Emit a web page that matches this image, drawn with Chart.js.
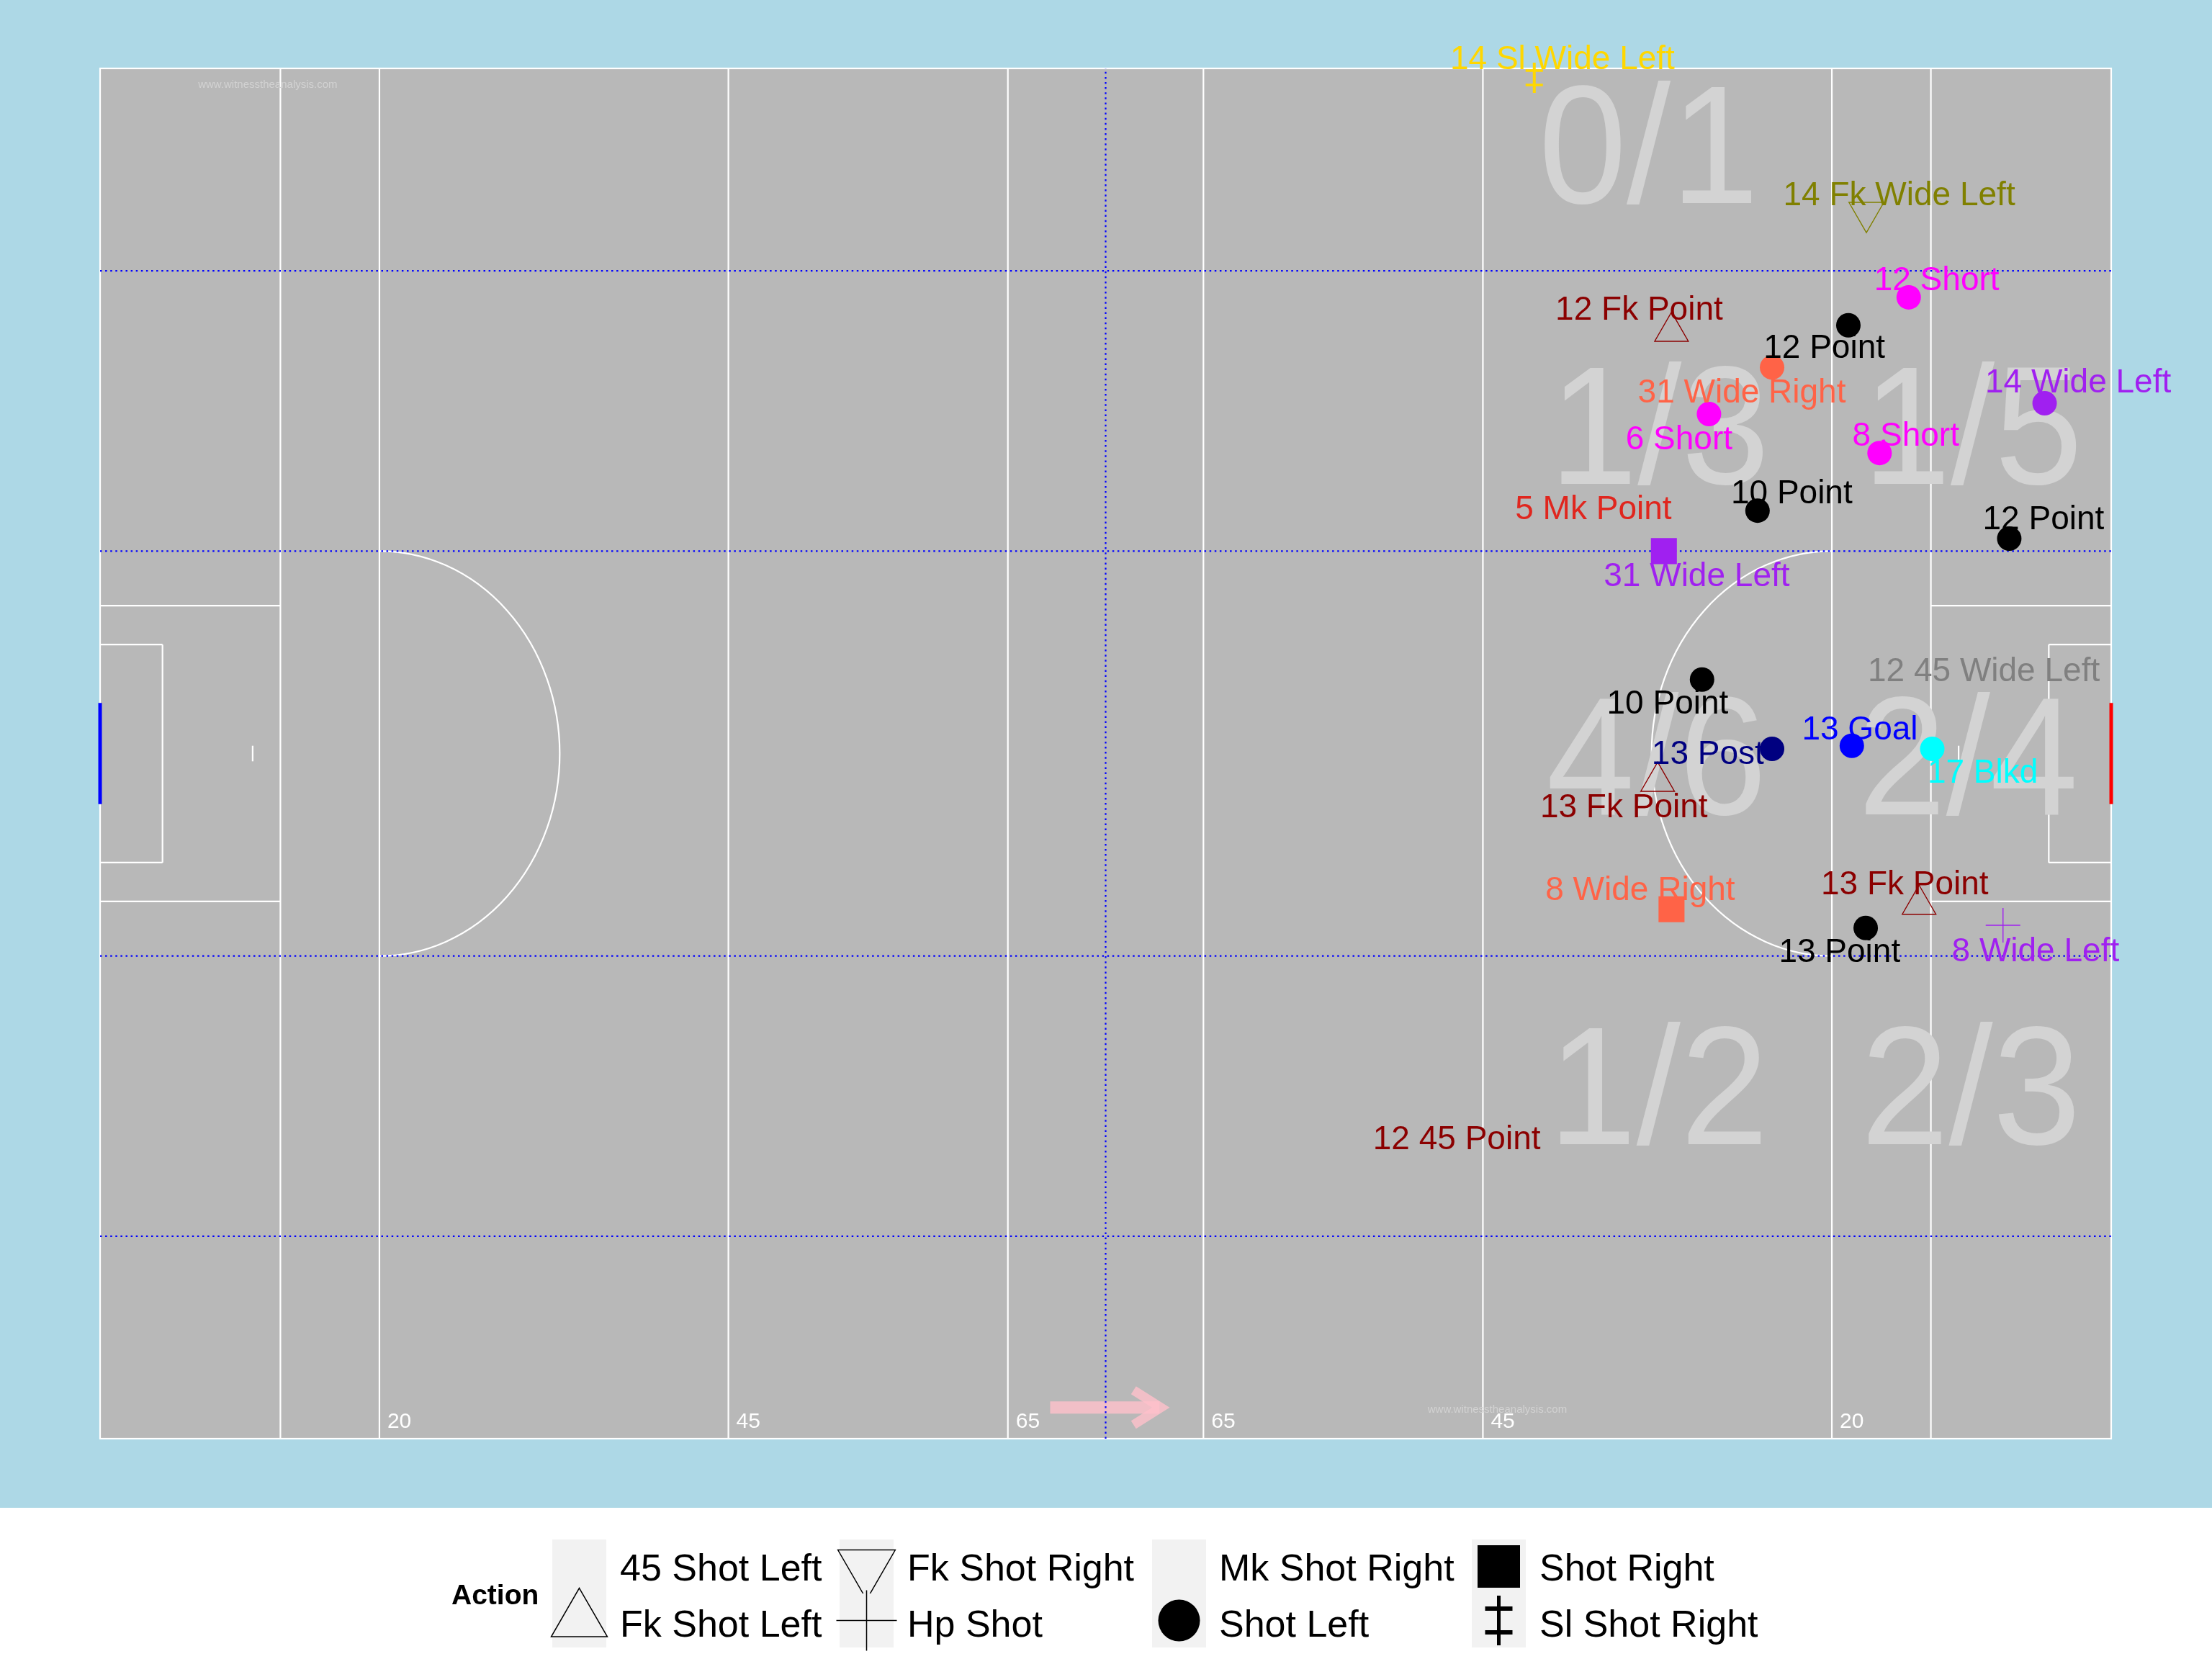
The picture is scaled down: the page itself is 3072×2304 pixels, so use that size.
<!DOCTYPE html>
<html>
<head>
<meta charset="utf-8">
<title>Shot chart</title>
<script src="https://cdn.jsdelivr.net/npm/chart.js@4.4.1/dist/chart.umd.min.js"></script>
<style>
html,body{margin:0;padding:0;background:#ffffff;overflow:hidden;}
#wrap{position:relative;width:3072px;height:2304px;}
canvas{display:block;}
</style>
</head>
<body>
<div id="wrap"><canvas id="chart" width="3072" height="2304"></canvas></div>
<script>
// ---------------- DATA ----------------
const players = [14, 14, 12, 12, 12, 31, 6, 8, 14, 10, 5, 31, 12, 10, 13, 13, 17, 13, 8, 13, 13, 8, 12, 12];
const results = ["Sl Wide Left", "Fk Wide Left", "Short", "Fk Point", "Point", "Wide Right", "Short", "Short",
  "Wide Left", "Point", "Mk Point", "Wide Left", "Point", "Point", "Post", "Goal", "Blkd", "Fk Point",
  "Wide Right", "Fk Point", "Point", "Wide Left", "45 Wide Left", "45 Point"];
const actions = ["Sl Shot Right", "Fk Shot Right", "Shot Left", "Fk Shot Left", "Shot Left", "Shot Left", "Shot Left",
  "Shot Left", "Shot Left", "Shot Left", "Mk Shot Right", "Shot Right", "Shot Left", "Shot Left", "Shot Left",
  "Shot Left", "Shot Left", "Fk Shot Left", "Shot Right", "Fk Shot Left", "Shot Left", "Hp Shot",
  "45 Shot Left", "45 Shot Left"];
const shotX = [103.4, 127.35, 130.4, 113.3, 126.05, 120.55, 116.0, 128.3, 140.2, 119.5, 109.5, 112.75,
  137.65, 115.5, 120.55, 126.3, 132.1, 112.3, 113.3, 131.15, 127.3, 137.2, 134.5, 99.5];
const shotY = [87.4, 78.75, 73.3, 71.1, 71.5, 68.8, 65.8, 63.3, 66.5, 59.6, 58.5, 57.0,
  57.8, 48.75, 44.3, 44.5, 44.3, 42.2, 34.0, 34.3, 32.8, 32.97, 48.0, 18.0];
const labelX = [105.52, 129.8, 132.5, 111.05, 124.4, 118.4, 113.9, 130.25, 142.7, 122.05, 107.7, 115.15,
  140.2, 113.1, 116.0, 126.9, 135.75, 109.95, 111.1, 130.2, 125.5, 139.6, 135.9, 97.9];
const labelY = [88.68, 79.95, 74.5, 72.6, 70.15, 67.3, 64.3, 64.5, 67.95, 60.8, 59.8, 55.5,
  59.15, 47.3, 44.07, 45.65, 42.87, 40.67, 35.33, 35.7, 31.35, 31.4, 49.4, 19.34];

// zone tallies
const zoneLabels = ["0/1", "1/3", "1/5", "4/6", "2/4", "1/2", "2/3"];
const zoneX = [111.6, 112.6, 135.2, 112.1, 134.8, 112.5, 134.9];
const zoneY = [83.1, 65.06, 65.06, 43.85, 43.85, 22.68, 22.68];

// legend categories
const actionOrder = ["45 Shot Left", "Fk Shot Left", "Fk Shot Right", "Hp Shot",
  "Mk Shot Right", "Shot Left", "Shot Right", "Sl Shot Right"];
const legendTitle = "Action";

// pitch markings (metres)
const pitchLength = 145;
const pitchWidth = 88;
const fullLinesX = [13, 20.14, 45.3, 65.45, 79.55, 99.7, 124.86, 132];
const distanceLabels = ["20", "45", "65", "65", "45", "20"];
const distanceLabelX = [20.14, 45.3, 65.45, 79.55, 99.7, 124.86];
const zoneLinesY = [13, 31, 57, 75];
const halfwayX = 72.5;
const watermark = "www.witnesstheanalysis.com";
const watermarkX = [12.05, 100.7];
const watermarkY = [86.98, 1.9];
const arrowFrom = [68.5, 2];
const arrowTo = [76.9, 2];

// ---------------- STYLES ----------------
const resultColour = {
  "Sl Wide Left": "#FFD700", "Fk Wide Left": "#808000", "Short": "#FF00FF", "Fk Point": "#8B0000",
  "Point": "#000000", "Wide Right": "#FF6347", "Wide Left": "#A020F0", "Mk Point": "#E0261E",
  "Post": "#000080", "Goal": "#0000FF", "Blkd": "#00FFFF", "45 Wide Left": "#808080", "45 Point": "#8B0000"
};
const FONT = "'Liberation Sans', Arial, Helvetica, sans-serif";

function drawDagger(ctx, x, y, h, barOff, barHalf, lwV, lwB, colour) {
  ctx.save();
  ctx.strokeStyle = colour;
  ctx.lineCap = 'butt';
  ctx.lineWidth = lwV;
  ctx.beginPath(); ctx.moveTo(x, y - h); ctx.lineTo(x, y + h); ctx.stroke();
  ctx.lineWidth = lwB;
  ctx.beginPath();
  ctx.moveTo(x - barHalf, y - barOff); ctx.lineTo(x + barHalf, y - barOff);
  ctx.moveTo(x - barHalf, y + barOff); ctx.lineTo(x + barHalf, y + barOff);
  ctx.stroke();
  ctx.restore();
}
function daggerCanvas(colour) {
  const c = document.createElement('canvas');
  c.width = 26; c.height = 44;
  drawDagger(c.getContext('2d'), 13, 22, 21, 10, 12, 4, 3.5, colour);
  return c;
}
const daggerCache = {};
function daggerFor(colour) {
  if (!daggerCache[colour]) daggerCache[colour] = daggerCanvas(colour);
  return daggerCache[colour];
}

const actionStyle = {
  "45 Shot Left": { style: 'circle', radius: 0, rotation: 0, open: false },
  "Fk Shot Left": { style: 'triangle', radius: 27, rotation: 0, open: true },
  "Fk Shot Right": { style: 'triangle', radius: 28, rotation: 180, open: true },
  "Hp Shot": { style: 'cross', radius: 24, rotation: 0, open: true },
  "Mk Shot Right": { style: 'circle', radius: 0, rotation: 0, open: false },
  "Shot Left": { style: 'circle', radius: 17, rotation: 0, open: false },
  "Shot Right": { style: 'rect', radius: 25.5, rotation: 0, open: false },
  "Sl Shot Right": { style: 'dagger', radius: 22, rotation: 0, open: false }
};

function colourOf(c) {
  return (c && c.raw) ? resultColour[results[c.raw.i]] : '#000000';
}

const datasets = actionOrder.map(a => {
  const st = actionStyle[a];
  return {
    label: a,
    data: shotX.map((x, i) => ({ x: x, y: shotY[i], i: i })).filter(p => actions[p.i] === a),
    clip: false,
    pointStyle: st.style === 'dagger' ? (c => daggerFor(colourOf(c))) : st.style,
    pointRadius: st.radius,
    pointHoverRadius: st.radius,
    pointRotation: st.rotation,
    pointBackgroundColor: st.open ? 'rgba(0,0,0,0)' : colourOf,
    pointBorderColor: colourOf,
    pointBorderWidth: st.open ? 1.4 : 0,
    pointHoverBorderWidth: st.open ? 1.4 : 0
  };
});

function inkText(ctx, text, x, yMid, font, colour, align) {
  ctx.font = font;
  ctx.fillStyle = colour;
  ctx.textAlign = 'left';
  ctx.textBaseline = 'alphabetic';
  const m = ctx.measureText(text);
  const cap = ctx.measureText('H').actualBoundingBoxAscent;
  let x0;
  if (align === 'center') x0 = x - (m.actualBoundingBoxRight - m.actualBoundingBoxLeft) / 2;
  else x0 = x;
  ctx.fillText(text, x0, yMid + cap / 2);
}

function legendGlyph(ctx, a, x, y) {
  ctx.save();
  ctx.strokeStyle = '#000'; ctx.fillStyle = '#000'; ctx.lineWidth = 1.5;
  if (a === "Fk Shot Left" || a === "Fk Shot Right") {
    const r = a === "Fk Shot Left" ? 45 : 46;
    const s = a === "Fk Shot Left" ? 1 : -1;
    ctx.beginPath();
    ctx.moveTo(x, y - s * r);
    ctx.lineTo(x + 0.866 * r, y + s * r / 2);
    ctx.lineTo(x - 0.866 * r, y + s * r / 2);
    ctx.closePath();
    ctx.stroke();
  } else if (a === "Hp Shot") {
    ctx.beginPath();
    ctx.moveTo(x - 42, y); ctx.lineTo(x + 42, y);
    ctx.moveTo(x, y - 42); ctx.lineTo(x, y + 42);
    ctx.stroke();
  } else if (a === "Shot Left") {
    ctx.beginPath(); ctx.arc(x, y, 29, 0, Math.PI * 2); ctx.fill();
  } else if (a === "Shot Right") {
    ctx.fillRect(x - 29.5, y - 29.5, 59, 59);
  } else if (a === "Sl Shot Right") {
    drawDagger(ctx, x, y, 34.5, 16.5, 19, 5, 6, '#000');
  }
  ctx.restore();
}

const pitchPlugin = {
  id: 'pitch',
  beforeDraw(chart) {
    const { ctx, chartArea: a } = chart;
    ctx.save();
    ctx.fillStyle = '#FFFFFF'; ctx.fillRect(0, 0, chart.width, chart.height);
    ctx.fillStyle = '#ADD8E6'; ctx.fillRect(0, 0, chart.width, 2094);
    ctx.fillStyle = '#B8B8B8'; ctx.fillRect(a.left, a.top, a.right - a.left, a.bottom - a.top);
    ctx.restore();
  },
  beforeDatasetsDraw(chart) {
    const ctx = chart.ctx;
    const sx = chart.scales.x, sy = chart.scales.y;
    const X = v => sx.getPixelForValue(v), Y = v => sy.getPixelForValue(v);
    ctx.save();
    // arrow (direction of play)
    ctx.strokeStyle = 'rgba(255,192,203,0.8)';
    ctx.lineWidth = 17; ctx.lineCap = 'butt'; ctx.lineJoin = 'miter';
    const ax0 = X(arrowFrom[0]), ay = Y(arrowFrom[1]), ax1 = X(arrowTo[0]);
    ctx.beginPath(); ctx.moveTo(ax0, ay); ctx.lineTo(ax1 - 10, ay); ctx.stroke();
    ctx.lineWidth = 13;
    ctx.beginPath();
    ctx.moveTo(ax1 - 46, ay - 24); ctx.lineTo(ax1 - 8, ay); ctx.lineTo(ax1 - 46, ay + 24);
    ctx.stroke();

    // white pitch lines
    ctx.strokeStyle = '#FFFFFF'; ctx.lineWidth = 2.2; ctx.lineCap = 'butt';
    const seg = (x1, y1, x2, y2) => { ctx.beginPath(); ctx.moveTo(X(x1), Y(y1)); ctx.lineTo(X(x2), Y(y2)); ctx.stroke(); };
    ctx.strokeRect(X(0), Y(pitchWidth), X(pitchLength) - X(0), Y(0) - Y(pitchWidth));
    fullLinesX.forEach(v => seg(v, 0, v, pitchWidth));
    const mid = pitchWidth / 2;
    // large rectangles
    [[0, 13], [132, pitchLength]].forEach(([x1, x2]) => {
      seg(x1, mid - 9.5, x2, mid - 9.5); seg(x1, mid + 9.5, x2, mid + 9.5);
    });
    // small rectangles
    seg(0, mid - 7, 4.5, mid - 7); seg(0, mid + 7, 4.5, mid + 7); seg(4.5, mid - 7, 4.5, mid + 7);
    seg(pitchLength - 4.5, mid - 7, pitchLength, mid - 7); seg(pitchLength - 4.5, mid + 7, pitchLength, mid + 7);
    seg(pitchLength - 4.5, mid - 7, pitchLength - 4.5, mid + 7);
    // penalty marks
    seg(11, mid - 0.5, 11, mid + 0.5); seg(pitchLength - 11, mid - 0.5, pitchLength - 11, mid + 0.5);
    // semicircles
    const rx = X(13) - X(0), ry = Y(0) - Y(13);
    ctx.beginPath(); ctx.ellipse(X(20.14), Y(mid), rx, ry, 0, -Math.PI / 2, Math.PI / 2); ctx.stroke();
    ctx.beginPath(); ctx.ellipse(X(124.86), Y(mid), rx, ry, 0, Math.PI / 2, Math.PI * 1.5); ctx.stroke();

    // dotted zone lines
    ctx.strokeStyle = '#0000FF'; ctx.lineWidth = 2.2; ctx.setLineDash([2.5, 4.6]);
    zoneLinesY.forEach(v => seg(0, v, pitchLength, v));
    seg(halfwayX, 0, halfwayX, pitchWidth);
    ctx.setLineDash([]);

    // goals
    ctx.lineWidth = 5;
    ctx.strokeStyle = '#0000FF'; seg(0, mid - 3.25, 0, mid + 3.25);
    ctx.strokeStyle = '#FF0000'; seg(pitchLength, mid - 3.25, pitchLength, mid + 3.25);

    // zone tallies (slightly condensed, as in the reference)
    zoneLabels.forEach((t, k) => {
      ctx.save();
      ctx.translate(X(zoneX[k]), 0);
      ctx.scale(0.94, 1);
      inkText(ctx, t, 0, Y(zoneY[k]), "234px " + FONT, '#D3D3D3', 'center');
      ctx.restore();
    });

    // distance labels
    ctx.font = "30px " + FONT; ctx.fillStyle = '#FFFFFF'; ctx.textAlign = 'left'; ctx.textBaseline = 'alphabetic';
    distanceLabels.forEach((t, k) => ctx.fillText(t, X(distanceLabelX[k]) + 11, Y(0.7)));

    // watermarks
    watermarkX.forEach((wx, k) => inkText(ctx, watermark, X(wx), Y(watermarkY[k]), "15px " + FONT, '#D2D2D2', 'center'));
    ctx.restore();
  },
  afterDatasetsDraw(chart) {
    const ctx = chart.ctx;
    const sx = chart.scales.x, sy = chart.scales.y;
    ctx.save();
    labelX.forEach((lx, i) => {
      inkText(ctx, players[i] + " " + results[i], sx.getPixelForValue(lx), sy.getPixelForValue(labelY[i]),
        "46px " + FONT, resultColour[results[i]], 'center');
    });
    ctx.restore();
  },
  afterDraw(chart) {
    const ctx = chart.ctx;
    ctx.save();
    inkText(ctx, legendTitle, 627, 2214.5, "bold 39px " + FONT, '#000000', 'left');
    const keyLeft = [767, 1166, 1600, 2044];
    const textLeft = [861, 1260, 1693, 2138];
    const keyTop = 2138, keySize = 75;
    const textMid = [2177, 2254.5];
    actionOrder.forEach((a, k) => {
      const c = Math.floor(k / 2), r = k % 2;
      const kx = keyLeft[c], ky = keyTop + r * keySize;
      ctx.fillStyle = '#F2F2F2';
      ctx.fillRect(kx, ky, keySize, keySize);
      legendGlyph(ctx, a, kx + keySize / 2, ky + keySize / 2);
      inkText(ctx, a, textLeft[c], textMid[r], "52px " + FONT, '#000000', 'left');
    });
    ctx.restore();
  }
};

new Chart(document.getElementById('chart'), {
  type: 'scatter',
  data: { datasets: datasets },
  options: {
    responsive: false,
    animation: false,
    events: [],
    layout: { padding: { left: 139, top: 95, right: 140, bottom: 306 } },
    scales: {
      x: { type: 'linear', min: 0, max: pitchLength, display: false },
      y: { type: 'linear', min: 0, max: pitchWidth, display: false }
    },
    plugins: { legend: { display: false }, tooltip: { enabled: false }, title: { display: false } }
  },
  plugins: [pitchPlugin]
});
</script>
</body>
</html>
